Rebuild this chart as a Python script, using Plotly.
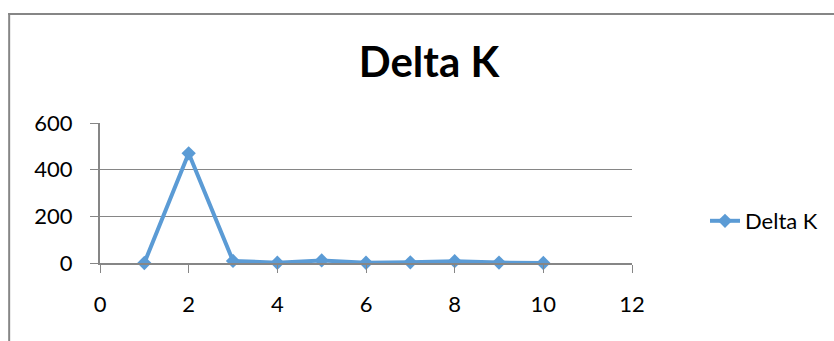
import plotly.graph_objects as go

x_vals = [1, 2, 3, 4, 5, 6, 7, 8, 9, 10]
delta_k = [0, 470, 9, 1, 11, 1, 3, 8, 2, 0]
series_name = "Delta K"
chart_title = "Delta K"
x_ticks = [0, 2, 4, 6, 8, 10, 12]
y_ticks = [0, 200, 400, 600]

W, H = 834, 341
L, R, T, B = 100, 201, 123, 78
pw = W - L - R
ph = H - T - B

def px_x(p):
    return (p - L) / pw

def px_y(p):
    return (H - B - p) / ph

blue = "#5B9BD5"
gray = "#868686"

fig = go.Figure()
fig.add_trace(go.Scatter(
    x=x_vals, y=delta_k, name=series_name, mode="lines+markers",
    line=dict(color=blue, width=4),
    marker=dict(symbol="diamond", size=11, color=blue),
    cliponaxis=False,
))

fig.update_layout(
    width=W, height=H, autosize=False,
    margin=dict(l=L, r=R, t=T, b=B, pad=0),
    paper_bgcolor="white", plot_bgcolor="white",
    font=dict(family="Lato", size=22, color="black"),
    title=dict(text="<b>" + chart_title + "</b>", font=dict(family="Lato", size=42, color="black"),
               x=429 / W, xanchor="center", xref="container",
               y=1 - 62 / H, yanchor="middle", yref="container"),
    showlegend=True,
    legend=dict(x=px_x(705), y=px_y(221), xanchor="left", yanchor="middle",
                font=dict(family="Lato", size=22, color="black"),
                bgcolor="rgba(0,0,0,0)", borderwidth=0),
    xaxis=dict(range=[0, 12], tickvals=x_ticks, showgrid=False, zeroline=False,
               showline=True, linecolor=gray, linewidth=2,
               ticks="outside", ticklen=8, tickcolor=gray, tickwidth=1,
               ticklabelstandoff=13),
    yaxis=dict(range=[0, 600], tickvals=y_ticks, showgrid=True, gridcolor=gray, gridwidth=1,
               zeroline=False, showline=True, linecolor=gray, linewidth=2,
               ticks="outside", ticklen=8, tickcolor=gray, tickwidth=1,
               ticklabelstandoff=13),
    shapes=[
        dict(type="line", xref="paper", yref="paper", x0=px_x(9), x1=px_x(9), y0=px_y(13), y1=px_y(H + 5),
             line=dict(color=gray, width=2)),
        dict(type="line", xref="paper", yref="paper", x0=px_x(8), x1=px_x(W + 5), y0=px_y(14), y1=px_y(14),
             line=dict(color=gray, width=2)),
    ],
)

fig.write_html("out.html")
